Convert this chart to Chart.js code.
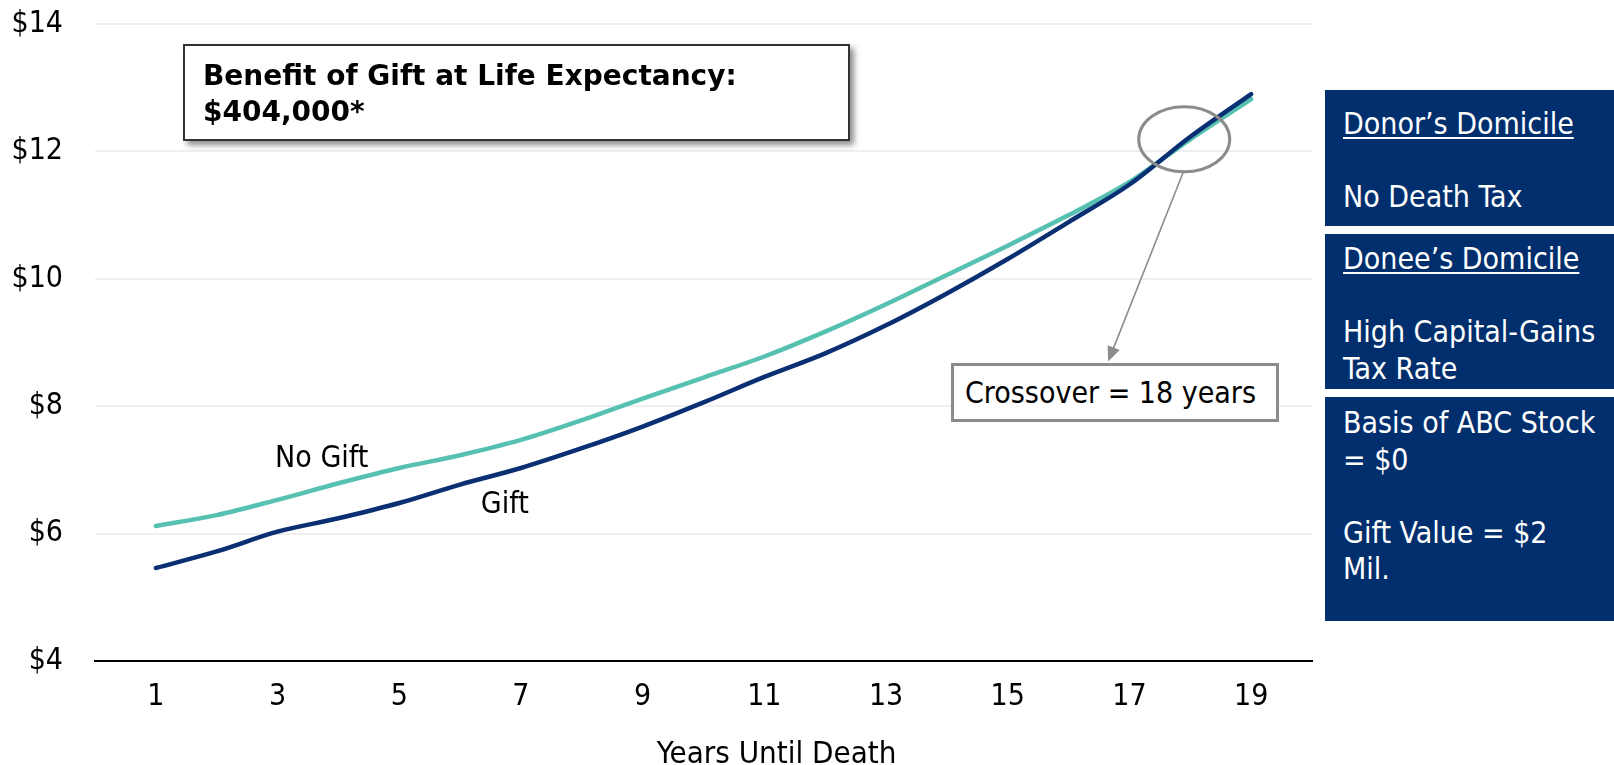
<!DOCTYPE html>
<html>
<head>
<meta charset="utf-8">
<script src="https://cdn.jsdelivr.net/npm/chart.js@4"></script>
<style>
    body { margin: 0; background: #fff; }
    #wrap { position: relative; width: 1614px; height: 765px; font-family: "DejaVu Sans Condensed", "DejaVu Sans", sans-serif; }
    #wrap canvas { position: absolute; left: 0; top: 0; }
    .box { position: absolute; box-sizing: border-box; background: #fff; color: #000; }
    .benefit { left: 183px; top: 44px; width: 667px; height: 97px; border: 2px solid #333; padding: 12px 0 0 18px;
        font-family: "DejaVu Sans", sans-serif; font-size: 28px; font-weight: bold; line-height: 36px;
        box-shadow: 4px 4px 6px rgba(0,0,0,0.45); }
    .cross { left: 951px; top: 363px; width: 328px; height: 59px; border: 3px solid #8c8c8c; padding: 9px 0 0 11px;
        font-size: 30px; line-height: 36px; }
    .panel { position: absolute; box-sizing: border-box; left: 1325px; width: 289px; background: #012f6e; color: #fff;
        padding-left: 18px; font-size: 30px; line-height: 36.5px; }
    .panel u { text-decoration-thickness: 2px; text-underline-offset: 3px; }
</style>
</head>
<body>
<div id="wrap">
    <canvas id="giftChart" width="1614" height="765"></canvas>
    <div class="box benefit">Benefit of Gift at Life Expectancy:<br>$404,000*</div>
    <div class="box cross">Crossover = 18 years</div>
    <div class="panel" style="top:90px;height:136px;padding-top:16px"><u>Donor’s Domicile</u><br><br>No Death Tax</div>
    <div class="panel" style="top:234px;height:155px;padding-top:7px"><u>Donee’s Domicile</u><br><br>High Capital-Gains<br>Tax Rate</div>
    <div class="panel" style="top:397px;height:224px;padding-top:8px">Basis of ABC Stock<br>= $0<br><br>Gift Value = $2<br>Mil.</div>
</div>
<script>
// data ($ millions)
let years = [1, 2, 3, 4, 5, 6, 7, 8, 9, 10, 11, 12, 13, 14, 15, 16, 17, 18, 19];
let noGift = [6.12, 6.29, 6.53, 6.79, 7.03, 7.23, 7.47, 7.78, 8.12, 8.45, 8.78, 9.17, 9.60, 10.06, 10.52, 11.00, 11.52, 12.19, 12.82];
let gift = [5.46, 5.72, 6.03, 6.24, 6.48, 6.77, 7.03, 7.34, 7.68, 8.06, 8.46, 8.83, 9.27, 9.77, 10.31, 10.89, 11.48, 12.23, 12.90];
let xTicks = [1, 3, 5, 7, 9, 11, 13, 15, 17, 19];
let yTicks = [4, 6, 8, 10, 12, 14];

let fontFamily = '"DejaVu Sans Condensed", "DejaVu Sans", sans-serif';
Chart.defaults.font.family = fontFamily;
Chart.defaults.font.size = 30;
Chart.defaults.color = '#000';

// labels, crossover circle and arrow, axis title
let notes = {
    id: 'notes',
    afterDatasetsDraw(chart) {
        let ctx = chart.ctx;
        let x = chart.scales.x;
        let y = chart.scales.y;
        ctx.save();
        ctx.fillStyle = '#000';
        ctx.font = '30px ' + fontFamily;
        ctx.textBaseline = 'alphabetic';
        ctx.textAlign = 'left';
        ctx.fillText('No Gift', x.getPixelForValue(2.96), y.getPixelForValue(7.05));
        ctx.fillText('Gift', x.getPixelForValue(6.34), y.getPixelForValue(6.32));

        ctx.textAlign = 'center';
        ctx.textBaseline = 'middle';
        ctx.font = '31px ' + fontFamily;
        ctx.fillText('Years Until Death', x.getPixelForValue(11.2), 755);

        // circle round the crossover
        let cx = x.getPixelForValue(17.9);
        let cy = y.getPixelForValue(12.19);
        ctx.strokeStyle = '#8c8c8c';
        ctx.lineWidth = 3;
        ctx.beginPath();
        ctx.ellipse(cx, cy, 45.5, 32.5, 0, 0, Math.PI * 2);
        ctx.stroke();

        // arrow down to the box
        let tx = x.getPixelForValue(16.65);
        let ty = y.getPixelForValue(8.70);
        let sx = cx - 1;
        let sy = cy + 33;
        let ang = Math.atan2(ty - sy, tx - sx);
        ctx.lineWidth = 1.6;
        ctx.beginPath();
        ctx.moveTo(sx, sy);
        ctx.lineTo(tx - 14 * Math.cos(ang), ty - 14 * Math.sin(ang));
        ctx.stroke();
        ctx.fillStyle = '#8c8c8c';
        ctx.beginPath();
        ctx.moveTo(tx, ty);
        ctx.lineTo(tx - 15 * Math.cos(ang) + 6.5 * Math.sin(ang), ty - 15 * Math.sin(ang) - 6.5 * Math.cos(ang));
        ctx.lineTo(tx - 15 * Math.cos(ang) - 6.5 * Math.sin(ang), ty - 15 * Math.sin(ang) + 6.5 * Math.cos(ang));
        ctx.closePath();
        ctx.fill();
        ctx.restore();
    }
};

let ctx = document.getElementById('giftChart').getContext('2d');
let chart = new Chart(ctx, {
    type: 'line',
    data: {
        datasets: [{
            label: 'Gift',
            data: years.map((yr, i) => ({ x: yr, y: gift[i] })),
            borderColor: '#0a2f72',
            borderWidth: 4.5,
            borderCapStyle: 'round',
            cubicInterpolationMode: 'monotone',
            pointRadius: 0,
            fill: false
        }, {
            label: 'No Gift',
            data: years.map((yr, i) => ({ x: yr, y: noGift[i] })),
            borderColor: '#56c1b1',
            borderWidth: 4.5,
            borderCapStyle: 'round',
            cubicInterpolationMode: 'monotone',
            pointRadius: 0,
            fill: false
        }]
    },
    options: {
        responsive: false,
        animation: false,
        layout: { padding: { left: 0, right: 302, top: 24, bottom: 0 } },
        plugins: {
            legend: { display: false },
            tooltip: { enabled: false }
        },
        scales: {
            x: {
                type: 'linear',
                min: 0,
                max: 20,
                afterBuildTicks: (s) => { s.ticks = xTicks.map(v => ({ value: v })); },
                afterFit: (s) => { s.height = 104; s.paddingLeft = 0; s.paddingRight = 0; },
                ticks: { padding: 18, maxRotation: 0, autoSkip: false },
                grid: { display: false, drawTicks: false },
                border: { display: true, color: '#000', width: 2 }
            },
            y: {
                min: 4,
                max: 14,
                afterBuildTicks: (s) => { s.ticks = yTicks.map(v => ({ value: v })); },
                afterFit: (s) => { s.width = 95; s.paddingTop = 0; s.paddingBottom = 0; },
                ticks: { padding: 32, callback: v => '$' + v },
                grid: { color: '#efefef', lineWidth: 2, drawTicks: false },
                border: { display: false }
            }
        }
    },
    plugins: [notes]
});
</script>
</body>
</html>
